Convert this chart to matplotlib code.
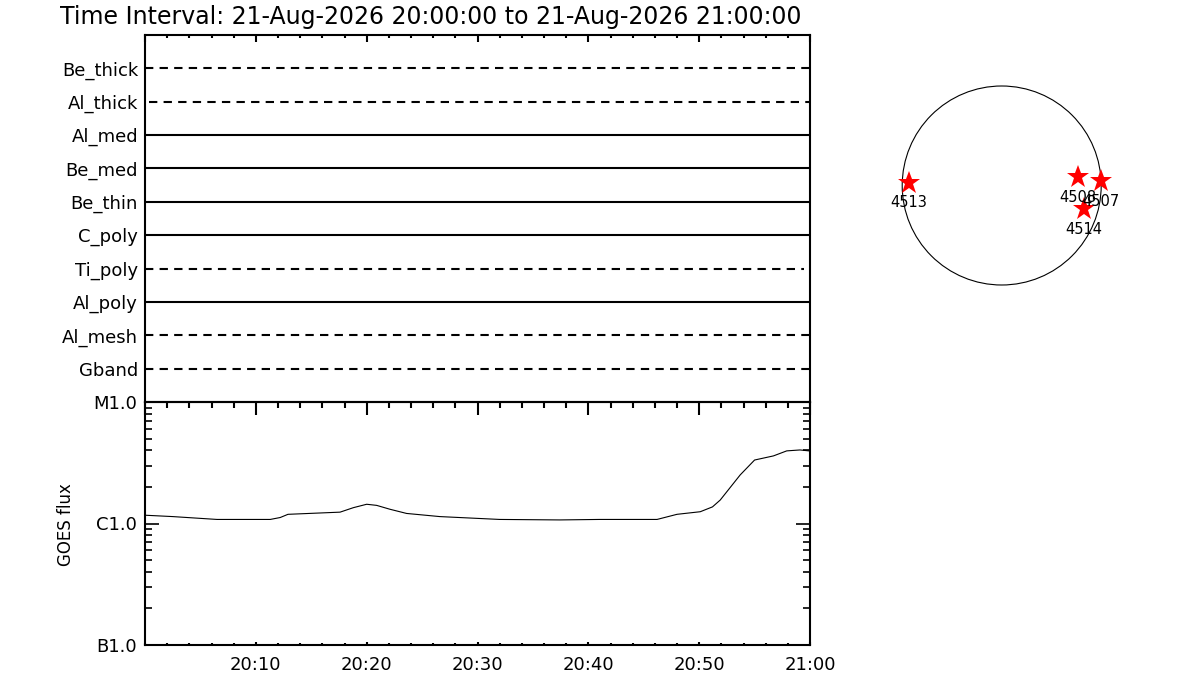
import matplotlib
matplotlib.use("Agg")
import matplotlib.pyplot as plt
from matplotlib.ticker import FixedLocator, MultipleLocator, LogLocator, NullFormatter

# Заголовок та часові мітки (хвилини від 20:00)
title = "Time Interval: 21-Aug-2026 20:00:00 to 21-Aug-2026 21:00:00"
tick_minutes = [10, 20, 30, 40, 50, 60]
tick_labels = ["20:10", "20:20", "20:30", "20:40", "20:50", "21:00"]

# Канали XRT (знизу вгору) та покриття даними
channels = ["Gband", "Al_mesh", "Al_poly", "Ti_poly", "C_poly",
            "Be_thin", "Be_med", "Al_med", "Al_thick", "Be_thick"]
channel_dashed = [True, True, False, True, False, False, False, False, True, True]
channel_start = [0, 0, 0, 0, 0, 0, 0, 0, 0.4, 0]
channel_end = [60, 60, 60, 59.5, 60, 60, 60, 60, 60, 60]

# Потік GOES
goes_minutes = [0, 2.5, 6.5, 11.3, 12.2, 12.9, 17.6, 18.8, 20.0, 20.9, 22.1, 23.6,
                26.6, 32, 37.4, 41, 46.2, 48, 50.1, 51.2, 51.9, 53.7, 55, 56.7,
                57.9, 59.1, 59.9]
goes_flux = [1.17e-6, 1.14e-6, 1.08e-6, 1.08e-6, 1.12e-6, 1.19e-6, 1.24e-6, 1.35e-6,
             1.44e-6, 1.41e-6, 1.31e-6, 1.21e-6, 1.14e-6, 1.08e-6, 1.07e-6, 1.08e-6,
             1.08e-6, 1.19e-6, 1.25e-6, 1.37e-6, 1.56e-6, 2.51e-6, 3.33e-6, 3.60e-6,
             3.96e-6, 4.03e-6, 3.96e-6]
goes_ticks = [1e-7, 1e-6, 1e-5]
goes_labels = ["B1.0", "C1.0", "M1.0"]

# Активні області на диску (кутові секунди)
ar_numbers = ["4513", "4508", "4507", "4514"]
ar_x = [-894, 733, 955, 797]
ar_y = [27, 79, 43, -230]
sun_radius = 960


def main():
    fig = plt.figure(figsize=(12, 7), dpi=100)
    W, H = 1200, 700

    # Нижня панель (GOES), прозорий фон щоб було видно тики верхньої
    ax_b = fig.add_axes([145 / W, 1 - 645 / H, 665 / W, 243 / H])
    ax_b.patch.set_alpha(0)
    ax_t = fig.add_axes([145 / W, 1 - 402 / H, 665 / W, 367 / H])
    ax_t.patch.set_alpha(0)

    # Верхня панель
    for i, name in enumerate(channels):
        ls = (0, (4, 3)) if channel_dashed[i] else "-"
        ax_t.plot([channel_start[i], channel_end[i]], [i + 1, i + 1],
                  color="black", lw=1.5, linestyle=ls, solid_capstyle="butt")
    ax_t.set_xlim(0, 60)
    ax_t.set_ylim(0, len(channels) + 1)
    ax_t.set_yticks(range(1, len(channels) + 1))
    ax_t.set_yticklabels(channels, fontsize=13)
    ax_t.tick_params(axis="y", length=0, pad=5)
    ax_t.xaxis.set_major_locator(FixedLocator([0] + tick_minutes))
    ax_t.xaxis.set_minor_locator(MultipleLocator(2))
    ax_t.tick_params(axis="x", which="both", top=True, bottom=True,
                     labelbottom=False, width=1.5)
    ax_t.tick_params(axis="x", which="major", length=5, top=True, direction="in")
    ax_t.tick_params(axis="x", which="minor", length=2.5, direction="in")
    # тики на спільній межі перетинають лінію
    for tk in ax_t.xaxis.get_major_ticks():
        tk.tick1line.set_marker(3)
        tk.tick1line.set_markersize(9)
    for tk in ax_t.xaxis.get_minor_ticks():
        tk.tick1line.set_marker(3)
        tk.tick1line.set_markersize(4.5)
    for s in ax_t.spines.values():
        s.set_linewidth(1.5)

    # Нижня панель
    ax_b.plot(goes_minutes, goes_flux, color="black", lw=0.8)
    ax_b.set_yscale("log")
    ax_b.set_xlim(0, 60)
    ax_b.set_ylim(1e-7, 1e-5)
    ax_b.yaxis.set_major_locator(FixedLocator(goes_ticks))
    ax_b.set_yticklabels(goes_labels, fontsize=13)
    ax_b.yaxis.set_minor_locator(LogLocator(base=10, subs=range(2, 10)))
    ax_b.yaxis.set_minor_formatter(NullFormatter())
    ax_b.tick_params(axis="y", which="both", left=True, right=True,
                     direction="in", width=1.2, pad=6)
    ax_b.tick_params(axis="y", which="major", length=10)
    ax_b.tick_params(axis="y", which="minor", length=5)
    ax_b.xaxis.set_major_locator(FixedLocator(tick_minutes))
    ax_b.set_xticklabels(tick_labels, fontsize=13)
    ax_b.xaxis.set_minor_locator(MultipleLocator(2))
    ax_b.tick_params(axis="x", which="both", top=False, bottom=True,
                     direction="in", width=1.5, pad=8)
    ax_b.tick_params(axis="x", which="major", length=2.5)
    ax_b.tick_params(axis="x", which="minor", length=1.5)
    ax_b.set_ylabel("GOES flux", fontsize=12)
    ax_b.yaxis.set_label_coords(-0.105, 0.494)
    for s in ax_b.spines.values():
        s.set_linewidth(1.5)

    # Диск Сонця
    cx, cy, half = 1001.7, 185.5, 120
    ax_s = fig.add_axes([(cx - half) / W, 1 - (cy + half) / H, 2 * half / W, 2 * half / H])
    lim = sun_radius * half / 99.5
    circle = plt.Circle((0, 0), sun_radius, fill=False, color="black", lw=0.8)
    ax_s.add_patch(circle)
    ax_s.plot(ar_x, ar_y, linestyle="none", marker="*", markersize=17,
              color="red", markeredgewidth=0)
    for num, x, y in zip(ar_numbers, ar_x, ar_y):
        ax_s.annotate(num, (x, y), xytext=(0, -14.5), textcoords="offset points",
                      ha="center", va="center", fontsize=10.5)
    ax_s.set_xlim(-lim, lim)
    ax_s.set_ylim(-lim, lim)
    ax_s.set_aspect("equal")
    ax_s.axis("off")

    fig.text(60 / W, 1 - 17 / H, title, ha="left", va="center", fontsize=17)

    fig.savefig("out.png", dpi=100)
    plt.close(fig)


if __name__ == "__main__":
    main()
